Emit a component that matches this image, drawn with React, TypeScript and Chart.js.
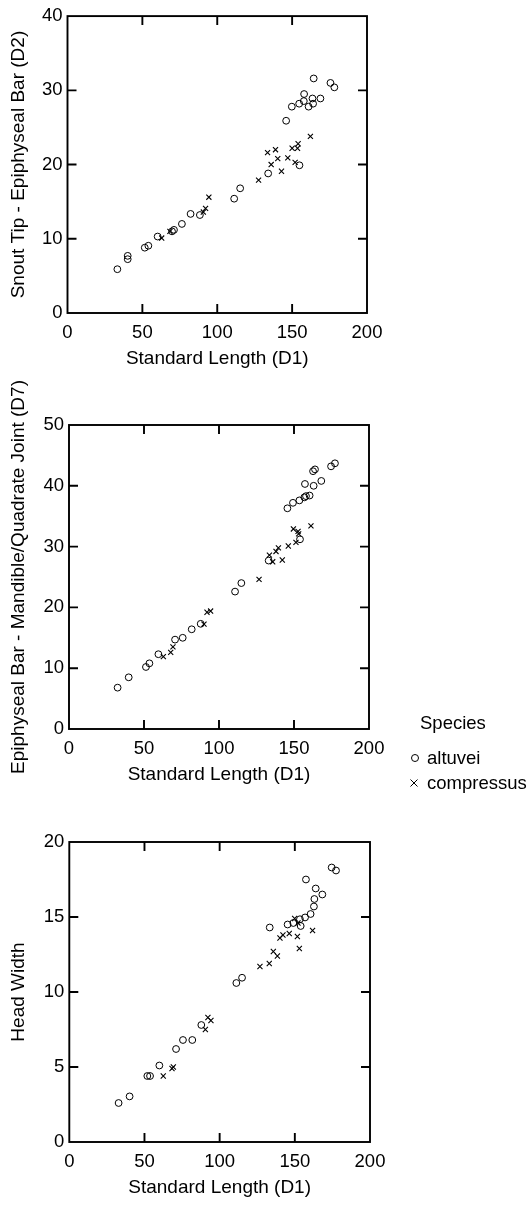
import React, { useEffect, useRef } from 'react';
import { Chart, registerables } from 'chart.js';
Chart.register(...registerables);

const FONT = '"Liberation Sans", Arial, Helvetica, sans-serif';

// Panel 1: Snout Tip - Epiphyseal Bar (D2)
const d2AltuveiSL = [33.3, 40.2, 40.2, 51.6, 54, 60.2, 69.8, 71.1, 76.4, 82.2, 88.4, 111.3, 115.3, 134, 146, 149.8, 154.7, 157.8, 158, 161, 163.6, 164, 164.4, 168.9, 175.6, 178.2, 154.9];
const d2AltuveiVal = [5.9, 7.7, 7.25, 8.8, 9.06, 10.3, 11.0, 11.2, 12.0, 13.35, 13.2, 15.4, 16.8, 18.8, 25.9, 27.8, 28.2, 28.55, 29.5, 27.8, 28.9, 28.2, 31.6, 28.9, 31.0, 30.4, 19.9];
const d2CompressusSL = [62.9, 68.4, 90.7, 92.2, 94.4, 127.6, 133.6, 136, 138.9, 140.4, 142.9, 147.1, 150, 152, 153.6, 154, 162.2];
const d2CompressusVal = [10.1, 11.0, 13.6, 14.1, 15.6, 17.9, 21.6, 20.0, 22.0, 20.8, 19.1, 20.9, 22.2, 20.3, 22.2, 22.8, 23.8];

// Panel 2: Epiphyseal Bar - Mandible/Quadrate Joint (D7)
const d7AltuveiSL = [32.4, 39.8, 51.3, 53.6, 59.6, 70.7, 75.8, 81.8, 87.8, 110.7, 114.9, 133.1, 145.6, 149.3, 153.6, 156.9, 158, 160.4, 157.3, 163.1, 162.7, 164, 168.2, 174.7, 177.3, 154];
const d7AltuveiVal = [6.8, 8.5, 10.2, 10.8, 12.3, 14.7, 15.0, 16.4, 17.3, 22.6, 24.0, 27.7, 36.3, 37.2, 37.6, 38.1, 38.3, 38.4, 40.3, 40.0, 42.4, 42.7, 40.8, 43.2, 43.7, 31.2];
const d7CompressusSL = [62.9, 67.8, 69.3, 90, 92, 94.4, 126.7, 133.6, 135.8, 138, 139.6, 142.2, 146.2, 149.6, 151.3, 152.7, 153.1, 161.3];
const d7CompressusVal = [11.9, 12.6, 13.5, 17.25, 19.2, 19.4, 24.6, 28.6, 27.5, 29.2, 29.8, 27.8, 30.1, 32.9, 30.7, 32.5, 32.1, 33.4];

// Panel 3: Head Width
const hwAltuveiSL = [32.8, 40.1, 51.9, 53.7, 59.9, 71, 75.6, 81.8, 87.8, 111.1, 114.9, 133.3, 145.2, 149, 153.4, 153.9, 156.8, 160.5, 157.4, 162.7, 163, 163.9, 168.3, 174.5, 177.4];
const hwAltuveiVal = [2.6, 3.04, 4.4, 4.4, 5.1, 6.2, 6.8, 6.8, 7.8, 10.6, 10.95, 14.3, 14.5, 14.6, 14.85, 14.4, 14.97, 15.2, 17.5, 15.7, 16.2, 16.9, 16.5, 18.3, 18.1];
const hwCompressusSL = [62.5, 68.3, 69.2, 90.5, 92.2, 94.2, 126.8, 133, 135.7, 138.4, 140.1, 142.1, 146.3, 149.9, 151.7, 153, 152.1, 161.8];
const hwCompressusVal = [4.4, 4.9, 5.0, 7.5, 8.3, 8.1, 11.7, 11.9, 12.7, 12.4, 13.6, 13.8, 13.9, 14.9, 13.7, 12.9, 14.6, 14.1];

const xTitle = 'Standard Length (D1)';
const speciesNames = ['altuvei', 'compressus'];

const framePlugin = {
  id: 'frame',
  afterDatasetsDraw(chart: any) {
    const { ctx, chartArea } = chart;
    const { left, right, top, bottom } = chartArea;
    const xs = chart.scales.x;
    const ys = chart.scales.y;
    const tl = 9;
    ctx.save();
    ctx.strokeStyle = '#000';
    ctx.lineWidth = 1.9;
    ctx.strokeRect(left, top, right - left, bottom - top);
    ctx.beginPath();
    xs.ticks.forEach((t: any) => {
      const px = xs.getPixelForValue(t.value);
      if (px <= left + 1 || px >= right - 1) return;
      ctx.moveTo(px, bottom);
      ctx.lineTo(px, bottom - tl);
      ctx.moveTo(px, top);
      ctx.lineTo(px, top + tl);
    });
    ys.ticks.forEach((t: any) => {
      const py = ys.getPixelForValue(t.value);
      if (py <= top + 1 || py >= bottom - 1) return;
      ctx.moveTo(left, py);
      ctx.lineTo(left + tl, py);
      ctx.moveTo(right, py);
      ctx.lineTo(right - tl, py);
    });
    ctx.stroke();
    ctx.restore();
  },
};

type PanelProps = {
  top: number;
  areaTop: number;
  areaBottom: number;
  left: number;
  right: number;
  yMax: number;
  yStep: number;
  yTitle: string;
  altX: number[];
  altY: number[];
  compX: number[];
  compY: number[];
};

function Panel(p: PanelProps) {
  const ref = useRef<HTMLCanvasElement>(null);
  const height = Math.round(p.areaBottom + 59 - p.top);
  useEffect(() => {
    if (!ref.current) return;
    const chart = new Chart(ref.current, {
      type: 'scatter',
      data: {
        datasets: [
          {
            label: speciesNames[0],
            data: p.altX.map((x, i) => ({ x, y: p.altY[i] })),
            pointStyle: 'circle',
            pointRadius: 3.4,
            pointBorderColor: '#000',
            pointBackgroundColor: 'rgba(0,0,0,0)',
            pointBorderWidth: 1,
          },
          {
            label: speciesNames[1],
            data: p.compX.map((x, i) => ({ x, y: p.compY[i] })),
            pointStyle: 'crossRot',
            pointRadius: 3.6,
            pointBorderColor: '#000',
            pointBackgroundColor: 'rgba(0,0,0,0)',
            pointBorderWidth: 1.1,
          },
        ],
      } as any,
      options: {
        animation: false,
        responsive: false,
        devicePixelRatio: 1,
        layout: { padding: { top: p.areaTop - p.top, right: 532 - p.right, left: 0, bottom: 0 } },
        plugins: { legend: { display: false }, tooltip: { enabled: false } },
        scales: {
          x: {
            type: 'linear',
            min: 0,
            max: 200,
            grid: { display: false, drawTicks: false },
            border: { display: false },
            ticks: { stepSize: 50, padding: 9, color: '#000', font: { family: FONT, size: 18.5 }, maxRotation: 0, autoSkip: false },
            title: { display: true, text: xTitle, color: '#000', font: { family: FONT, size: 19 }, padding: { top: 0, bottom: 1.6 } },
            afterFit: (s: any) => { s.height = 59; },
          },
          y: {
            type: 'linear',
            min: 0,
            max: p.yMax,
            grid: { display: false, drawTicks: false },
            border: { display: false },
            ticks: { stepSize: p.yStep, padding: 5, color: '#000', font: { family: FONT, size: 18.5 }, autoSkip: false },
            title: { display: true, text: p.yTitle, color: '#000', font: { family: FONT, size: 19 }, padding: { top: 7, bottom: 0 } },
            afterFit: (s: any) => { s.width = p.left; },
          },
        },
      } as any,
      plugins: [framePlugin],
    });
    return () => chart.destroy();
  }, []);
  return (
    <canvas
      ref={ref}
      width={532}
      height={height}
      style={{ position: 'absolute', left: 0, top: p.top, width: 532, height, display: 'block' }}
    />
  );
}

function Legend() {
  const text: React.CSSProperties = { position: 'absolute', fontFamily: FONT, fontSize: 18.5, lineHeight: '22px', color: '#000', whiteSpace: 'nowrap' };
  return (
    <>
      <div style={{ ...text, left: 420, top: 712 }}>Species</div>
      <svg style={{ position: 'absolute', left: 409, top: 752 }} width={12} height={12}>
        <circle cx={6} cy={6} r={3.5} fill="none" stroke="#000" strokeWidth={1} />
      </svg>
      <div style={{ ...text, left: 427, top: 747 }}>{speciesNames[0]}</div>
      <svg style={{ position: 'absolute', left: 408, top: 777 }} width={12} height={12}>
        <line x1={2.5} y1={2.5} x2={9.5} y2={9.5} stroke="#000" strokeWidth={1} />
        <line x1={9.5} y1={2.5} x2={2.5} y2={9.5} stroke="#000" strokeWidth={1} />
      </svg>
      <div style={{ ...text, left: 427, top: 772 }}>{speciesNames[1]}</div>
    </>
  );
}

export default function App() {
  return (
    <div style={{ position: 'absolute', left: 0, top: 0, width: 532, height: 1206, background: '#fff', overflow: 'hidden' }}>
      <Panel top={0} areaTop={12} areaBottom={313} left={67.5} right={367} yMax={40} yStep={10}
        yTitle="Snout Tip - Epiphyseal Bar (D2)" altX={d2AltuveiSL} altY={d2AltuveiVal} compX={d2CompressusSL} compY={d2CompressusVal} />
      <Panel top={376} areaTop={425} areaBottom={729} left={69} right={369} yMax={50} yStep={10}
        yTitle="Epiphyseal Bar - Mandible/Quadrate Joint (D7)" altX={d7AltuveiSL} altY={d7AltuveiVal} compX={d7CompressusSL} compY={d7CompressusVal} />
      <Panel top={800} areaTop={842} areaBottom={1142} left={69.3} right={370} yMax={20} yStep={5}
        yTitle="Head Width" altX={hwAltuveiSL} altY={hwAltuveiVal} compX={hwCompressusSL} compY={hwCompressusVal} />
      <Legend />
    </div>
  );
}
